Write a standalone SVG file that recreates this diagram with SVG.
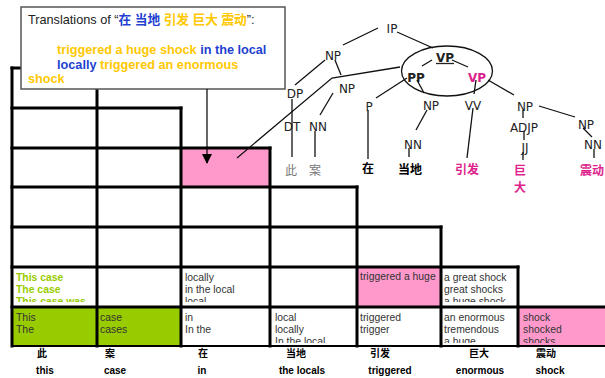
<svg xmlns="http://www.w3.org/2000/svg" width="605" height="378" viewBox="0 0 605 378">
<style>
.grid{stroke:#000;stroke-width:3;fill:none;stroke-linecap:square}
.c{font-family:"Liberation Sans",Arial,sans-serif;font-size:10.4px;fill:#333}
.cg{font-family:"Liberation Sans",Arial,sans-serif;font-size:10.4px;fill:#99cc00;font-weight:bold}
.t{font-family:"DejaVu Sans",sans-serif;font-size:12px;fill:#222;text-anchor:middle}
.tb{font-weight:bold}
.zh{font-family:"Noto Sans CJK SC",sans-serif;font-size:12px;text-anchor:middle}
.lab{font-family:"Liberation Sans","Noto Sans CJK SC",sans-serif;font-size:10px;font-weight:bold;fill:#000;text-anchor:middle}
.bx{font-family:"Liberation Sans","Noto Sans CJK SC",sans-serif;font-size:12.7px}
.bl{fill:#1f3fd0;font-weight:bold}
.ye{fill:#ffc800;font-weight:bold}
.ln{stroke:#111;stroke-width:1.3;fill:none}
.mg{fill:#dd1e8c}
</style>
<defs>
<clipPath id="r2"><rect x="0" y="267" width="605" height="35"/></clipPath>
<clipPath id="r1"><rect x="0" y="307" width="605" height="36"/></clipPath>
<marker id="ah" markerWidth="10" markerHeight="10" refX="9" refY="5" orient="auto" markerUnits="userSpaceOnUse"><path d="M0,0 L10,5 L0,10 Z" fill="#000"/></marker>
</defs>

<g id="cell-fills">
<rect x="181" y="148" width="89" height="39" fill="#ff99cc"/>
<rect x="357" y="267" width="84" height="40" fill="#ff99cc"/>
<rect x="518" y="307" width="87" height="39" fill="#ff99cc"/>
<rect x="12" y="307" width="85" height="39" fill="#99cc00"/>
<rect x="97" y="307" width="84" height="39" fill="#99cc00"/>
</g>

<g id="chart-grid" class="grid">
<path d="M12,68H97 M12,108H181 M12,148H270 M12,187H357 M12,227H441 M12,267H518 M12,307H605"/>
<path d="M12,346H605" stroke-width="2"/>
<path d="M12,68V346 M97,68V346 M181,108V346 M270,148V346 M357,187V346 M441,227V346 M518,267V346"/>
</g>

<g id="row2-cells" clip-path="url(#r2)">
<g id="c2-0"><text class="cg" x="16" y="281">This case</text><text class="cg" x="16" y="293">The case</text><text class="cg" x="16" y="305">This case was</text></g>
<g id="c2-2"><text class="c" x="185" y="281">locally</text><text class="c" x="185" y="293">in the local</text><text class="c" x="185" y="305">local</text></g>
<g id="c2-4"><text class="c" x="360" y="280">triggered a huge</text></g>
<g id="c2-5"><text class="c" x="444" y="281">a great shock</text><text class="c" x="444" y="293">great shocks</text><text class="c" x="444" y="305">a huge shock</text></g>
</g>

<g id="row1-cells" clip-path="url(#r1)">
<g id="c1-0"><text class="c" x="16" y="321">This</text><text class="c" x="16" y="333">The</text></g>
<g id="c1-1"><text class="c" x="100" y="321">case</text><text class="c" x="100" y="333">cases</text></g>
<g id="c1-2"><text class="c" x="185" y="321">in</text><text class="c" x="185" y="333">In the</text></g>
<g id="c1-3"><text class="c" x="275" y="321">local</text><text class="c" x="275" y="333">locally</text><text class="c" x="275" y="345">In the local</text></g>
<g id="c1-4"><text class="c" x="360" y="321">triggered</text><text class="c" x="360" y="333">trigger</text></g>
<g id="c1-5"><text class="c" x="444" y="321">an enormous</text><text class="c" x="444" y="333">tremendous</text><text class="c" x="444" y="345">a huge</text></g>
<g id="c1-6"><text class="c" x="523" y="321">shock</text><text class="c" x="523" y="333">shocked</text><text class="c" x="523" y="345">shocks</text></g>
</g>

<g id="word-labels">
<g id="w1"><text class="lab" x="42" y="357">此</text><text class="lab" x="45" y="374">this</text></g>
<g id="w2"><text class="lab" x="110" y="357">案</text><text class="lab" x="115" y="374">case</text></g>
<g id="w3"><text class="lab" x="203" y="357">在</text><text class="lab" x="202" y="374">in</text></g>
<g id="w4"><text class="lab" x="296" y="357">当地</text><text class="lab" x="302" y="374">the locals</text></g>
<g id="w5"><text class="lab" x="380" y="357">引发</text><text class="lab" x="390" y="374">triggered</text></g>
<g id="w6"><text class="lab" x="479" y="357">巨大</text><text class="lab" x="480" y="374">enormous</text></g>
<g id="w7"><text class="lab" x="546" y="357">震动</text><text class="lab" x="550" y="374">shock</text></g>
</g>

<g id="translation-box">
<rect x="21" y="7" width="264" height="82" fill="#fff" stroke="#555" stroke-width="1.5"/>
<text class="bx" x="28" y="24" fill="#222">Translations of “<tspan class="bl">在 当地</tspan> <tspan class="ye">引发 巨大 震动</tspan>”:</text>
<text class="bx" x="57" y="54"><tspan class="ye">triggered a huge shock</tspan> <tspan class="bl">in the local</tspan></text>
<text class="bx" x="57" y="69"><tspan class="bl">locally</tspan> <tspan class="ye">triggered an enormous</tspan></text>
<text class="bx" x="28" y="83"><tspan class="ye">shock</tspan></text>
</g>

<g id="tree-nodes">
<g id="n-IP"><text class="t" x="392" y="32.5">IP</text></g>
<g id="n-NP1"><text class="t" x="333" y="59.5">NP</text></g>
<g id="n-VP1"><text class="t tb" x="445" y="61.5">VP</text><line x1="436" y1="63.5" x2="454" y2="63.5" stroke="#222" stroke-width="1.3"/></g>
<g id="n-PP"><text class="t tb" x="416" y="81.5">PP</text></g>
<g id="n-VP2"><text class="t tb mg" x="477" y="81.5">VP</text></g>
<g id="n-NP2"><text class="t" x="347" y="92.5">NP</text></g>
<g id="n-DP"><text class="t" x="295" y="97.5">DP</text></g>
<g id="n-DT"><text class="t" x="292" y="130.5">DT</text></g>
<g id="n-NN1"><text class="t" x="318" y="130.5">NN</text></g>
<g id="n-P"><text class="t" x="369" y="110.5">P</text></g>
<g id="n-NP3"><text class="t" x="431" y="109.5">NP</text></g>
<g id="n-NN2"><text class="t" x="413" y="148.5">NN</text></g>
<g id="n-VV"><text class="t" x="473" y="109.5">VV</text></g>
<g id="n-NP4"><text class="t" x="525" y="110.5">NP</text></g>
<g id="n-ADJP"><text class="t" x="524" y="131.5">ADJP</text></g>
<g id="n-JJ"><text class="t" x="525" y="151.5">JJ</text></g>
<g id="n-NP5"><text class="t" x="586" y="128.5">NP</text></g>
<g id="n-NN3"><text class="t" x="593" y="148.5">NN</text></g>
<g id="z-ci"><text class="zh" x="291" y="174.5" fill="#777">此</text></g>
<g id="z-an"><text class="zh" x="315" y="174.5" fill="#777">案</text></g>
<g id="z-zai"><text class="zh" x="368" y="173" font-weight="bold" fill="#000">在</text></g>
<g id="z-dangdi"><text class="zh" x="410" y="174" font-weight="bold" fill="#000">当地</text></g>
<g id="z-yinfa"><text class="zh mg" x="467" y="174" font-weight="bold">引发</text></g>
<g id="z-juda"><text class="zh mg" x="520" y="174.5" font-weight="bold">巨</text><text class="zh mg" x="520" y="191.5" font-weight="bold">大</text></g>
<g id="z-zhendong"><text class="zh mg" x="592" y="174.5" font-weight="bold">震动</text></g>
</g>

<g id="connectors">
<ellipse cx="447" cy="71" rx="45.5" ry="25" fill="none" stroke="#111" stroke-width="1.3"/>
<line class="ln" x1="378" y1="28" x2="343" y2="45"/>
<line class="ln" x1="397" y1="32" x2="433" y2="48"/>
<line class="ln" x1="432" y1="60" x2="422" y2="66"/>
<line class="ln" x1="452" y1="60" x2="468" y2="67"/>
<line class="ln" x1="325" y1="60" x2="295" y2="85"/>
<line class="ln" x1="335" y1="60" x2="341" y2="75"/>
<polyline class="ln" points="400,67 332,78 237,158"/>
<line class="ln" x1="292" y1="99" x2="292" y2="157"/>
<line class="ln" x1="333" y1="93" x2="320" y2="115"/>
<line class="ln" x1="315" y1="131" x2="315" y2="157"/>
<line class="ln" x1="407" y1="78" x2="376" y2="98"/>
<line class="ln" x1="368" y1="110" x2="368" y2="159"/>
<line class="ln" x1="417" y1="80" x2="424" y2="93"/>
<line class="ln" x1="427" y1="110" x2="416" y2="130"/>
<line class="ln" x1="409" y1="148" x2="409" y2="157"/>
<line class="ln" x1="476" y1="80" x2="474" y2="94"/>
<line class="ln" x1="473" y1="108" x2="467" y2="158"/>
<line class="ln" x1="488" y1="80" x2="514" y2="95"/>
<line class="ln" x1="523" y1="110" x2="523" y2="118"/>
<line class="ln" x1="524" y1="131" x2="524" y2="140"/>
<line class="ln" x1="523" y1="152" x2="523" y2="160"/>
<line class="ln" x1="539" y1="106" x2="575" y2="117"/>
<line class="ln" x1="583" y1="128" x2="592" y2="137"/>
<line class="ln" x1="594" y1="149" x2="594" y2="158"/>
<line x1="207" y1="89" x2="207" y2="163" stroke="#000" stroke-width="1.2" marker-end="url(#ah)"/>
</g>
</svg>
